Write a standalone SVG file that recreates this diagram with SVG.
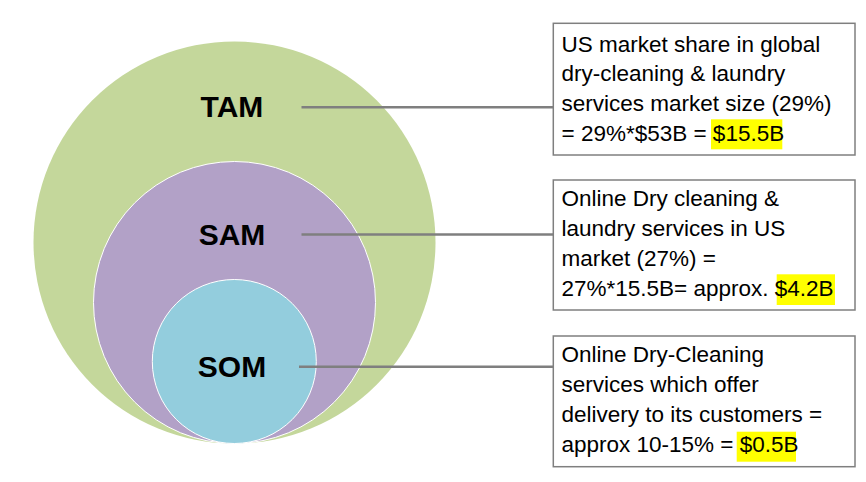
<svg xmlns="http://www.w3.org/2000/svg" width="866" height="482" viewBox="0 0 866 482">
<style>
.lbl{font-family:"Liberation Sans",Arial,sans-serif;font-weight:bold;font-size:30px;fill:#000;text-anchor:middle}
.box{fill:#fff;stroke:#7f7f7f;stroke-width:1.5}
.txt{font-family:"Liberation Sans",Arial,sans-serif;font-size:22.5px;fill:#000}
.hl{fill:#ffff00}
.conn{stroke:#7f7f7f;stroke-width:2.5;fill:none}
</style>
<rect width="866" height="482" fill="#fff"/>
<g id="tam">
<circle cx="234.5" cy="242.5" r="201" fill="#c4d79b"/>
<text class="lbl" x="232" y="117">TAM</text>
</g>
<g id="sam">
<circle cx="234.5" cy="302.5" r="141" fill="#b2a1c7" stroke="#fff" stroke-width="1"/>
<text class="lbl" x="232" y="245">SAM</text>
</g>
<g id="som">
<circle cx="234.3" cy="361.5" r="82" fill="#93cddd" stroke="#fff" stroke-width="1"/>
<text class="lbl" x="232" y="377">SOM</text>
</g>
<g id="connectors">
<line class="conn" x1="301.5" y1="107.3" x2="553" y2="107.3"/>
<line class="conn" x1="301.5" y1="234.5" x2="553" y2="234.5"/>
<line class="conn" x1="299" y1="366.7" x2="553" y2="366.7"/>
</g>
<g id="box-tam">
<rect class="box" x="553.3" y="23.3" width="301.7" height="131.7"/>
<rect class="hl" x="711" y="119.3" width="71.3" height="30"/>
<text class="txt" x="561.5" y="51.5">US market share in global</text>
<text class="txt" x="561.5" y="81.3">dry-cleaning &amp; laundry</text>
<text class="txt" x="561.5" y="111">services market size (29%)</text>
<text class="txt" x="561.5" y="140.8">= 29%*$53B = $15.5B</text>
</g>
<g id="box-sam">
<rect class="box" x="553.3" y="180" width="301.7" height="130"/>
<rect class="hl" x="776.7" y="274.3" width="58.3" height="30.7"/>
<text class="txt" x="561.5" y="205.7">Online Dry cleaning &amp;</text>
<text class="txt" x="561.5" y="235.7">laundry services in US</text>
<text class="txt" x="561.5" y="265.7">market (27%) =</text>
<text class="txt" x="561.5" y="295.7">27%*15.5B= approx. $4.2B</text>
</g>
<g id="box-som">
<rect class="box" x="553.3" y="336" width="301.7" height="130.7"/>
<rect class="hl" x="736.7" y="431.7" width="59.3" height="30"/>
<text class="txt" x="561.5" y="361.7">Online Dry-Cleaning</text>
<text class="txt" x="561.5" y="391.7">services which offer</text>
<text class="txt" x="561.5" y="421.7">delivery to its customers =</text>
<text class="txt" x="561.5" y="451.7">approx 10-15% = $0.5B</text>
</g>
</svg>
